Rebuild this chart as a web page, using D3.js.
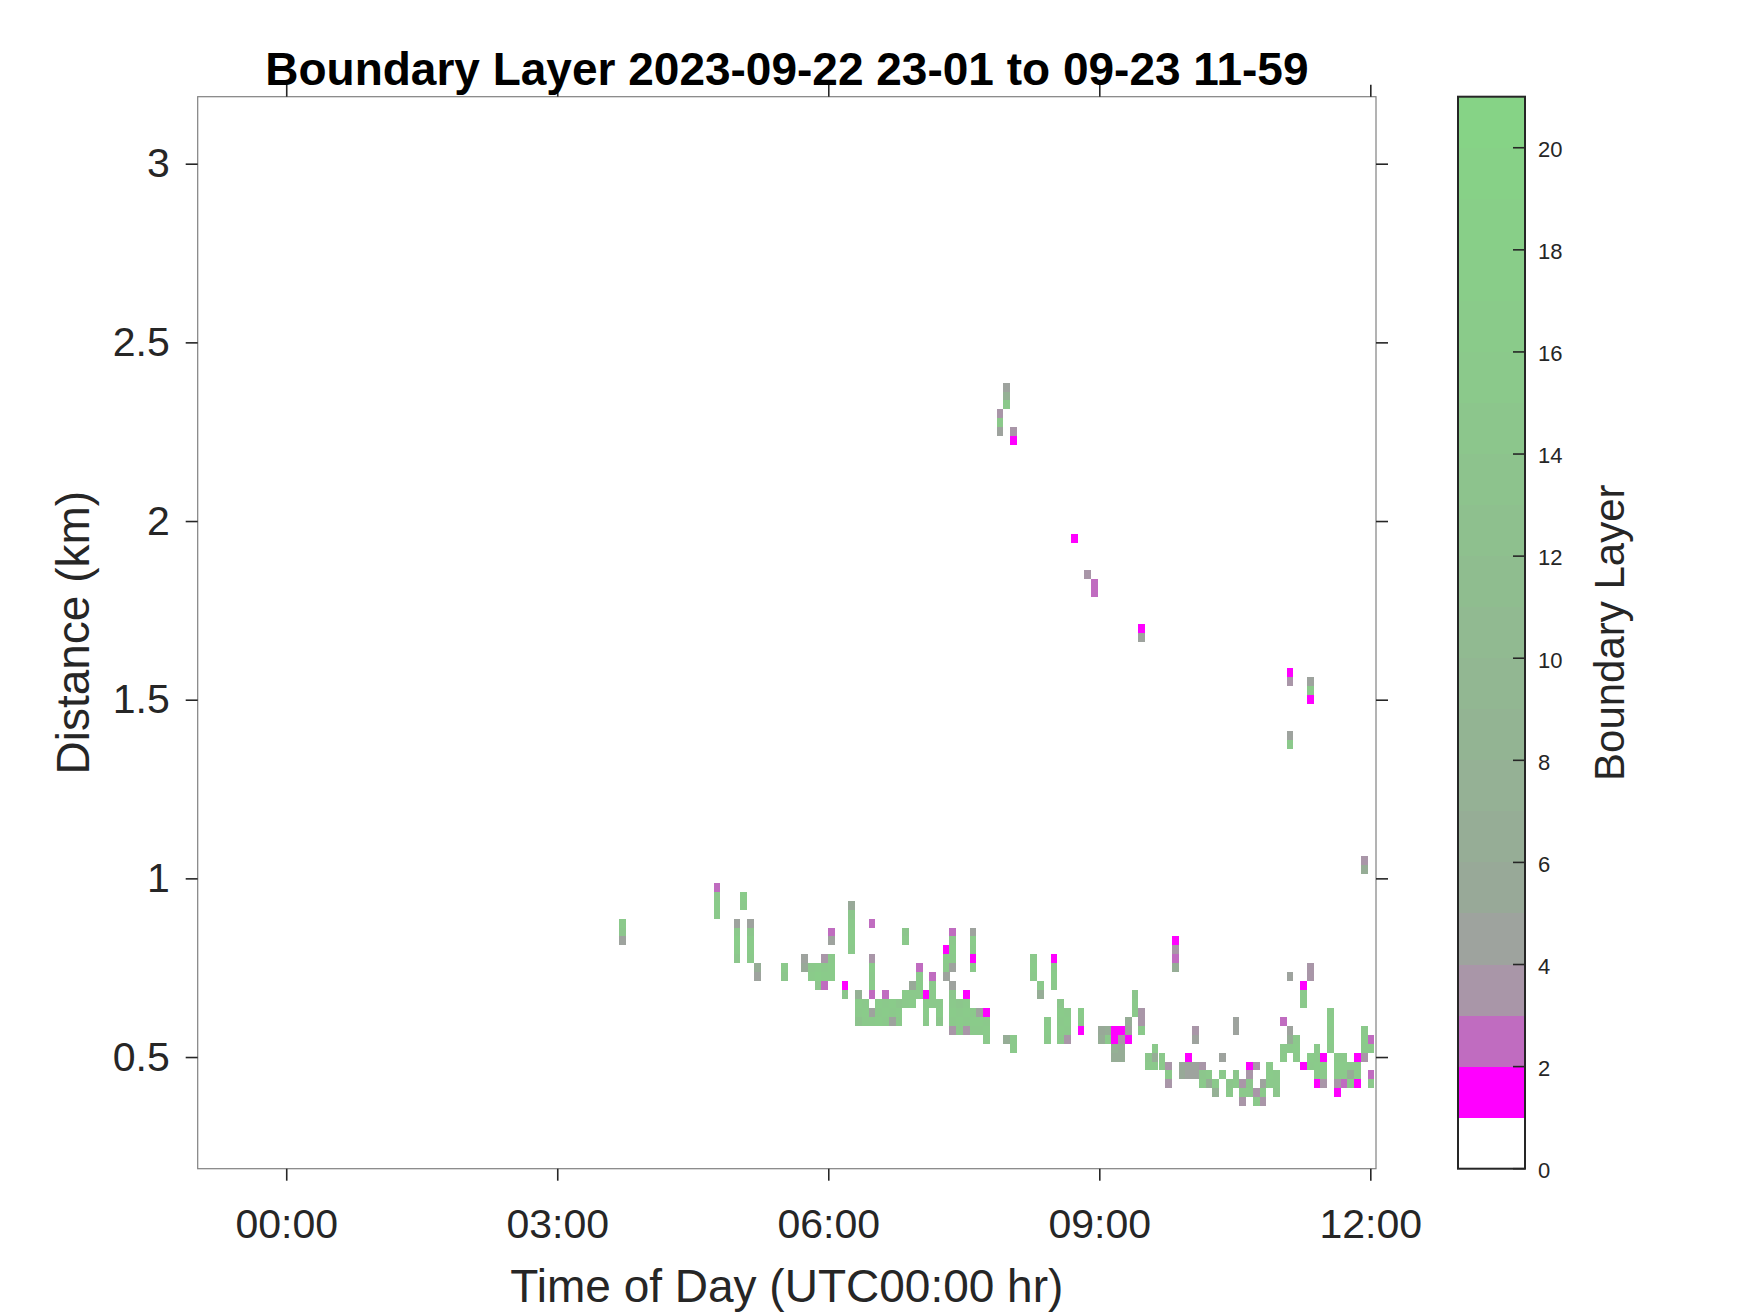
<!DOCTYPE html>
<html><head><meta charset="utf-8">
<script src="https://cdn.jsdelivr.net/npm/d3@7"></script>
<style>html,body{margin:0;padding:0;background:#fff} svg{display:block}</style>
</head><body>
<svg id="chart" width="1750" height="1313"></svg>
<script>
// ---- data: one entry per vertical run of range gates ----
// time of column centre (hours, UTC), height of lowest gate (km), gate values upward (0 = empty)
const segTime = [3.722,4.767,4.991,5.065,5.140,5.215,5.513,5.737,5.812,5.887,5.961,6.036,6.185,6.260,6.334,6.409,6.484,6.558,6.633,6.707,6.782,6.857,6.857,6.931,7.006,7.081,7.155,7.230,7.305,7.379,7.379,7.454,7.528,7.603,7.603,7.678,7.752,7.902,7.976,7.976,8.051,8.051,8.275,8.349,8.424,8.499,8.573,8.648,8.723,8.797,8.872,8.947,9.021,9.096,9.170,9.245,9.320,9.394,9.469,9.469,9.544,9.618,9.693,9.768,9.842,9.917,9.991,10.066,10.066,10.141,10.215,10.290,10.365,10.365,10.439,10.514,10.514,10.589,10.663,10.738,10.738,10.812,10.887,10.962,11.036,11.036,11.111,11.111,11.111,11.111,11.186,11.260,11.260,11.335,11.335,11.335,11.410,11.484,11.559,11.633,11.708,11.783,11.857,11.932,11.932,12.007,12.007];
const segBase = [0.825,0.900,0.775,0.925,0.775,0.725,0.725,0.750,0.725,0.700,0.700,0.725,0.675,0.800,0.600,0.600,0.600,0.600,0.600,0.600,0.600,0.650,0.825,0.650,0.675,0.600,0.650,0.600,0.725,0.575,0.750,0.575,0.575,0.575,0.750,0.575,0.550,2.250,0.550,2.325,0.525,2.225,0.725,0.675,0.550,0.700,0.550,0.550,1.950,0.575,1.850,1.800,0.550,0.550,0.500,0.500,0.550,0.625,0.575,1.675,0.475,0.475,0.475,0.425,0.750,0.450,0.450,0.450,0.550,0.425,0.425,0.400,0.450,0.500,0.400,0.425,0.575,0.375,0.400,0.375,0.475,0.375,0.425,0.400,0.500,0.600,0.525,0.725,1.375,1.550,0.500,0.475,0.650,0.475,0.725,1.500,0.425,0.425,0.525,0.400,0.425,0.425,0.425,0.500,1.025,0.425,0.525];
const segValues = [
  [4,14,15],[15,16,15,2],[14,16,17,15,4],[15,16],[15,16,16,14,4],[4,6],[14,15],[5,4],[16,15],[14,17,16],
  [2,16,15,3],[16,16,15,0,4,2],[14,1],[15,16,16,15,14,5],[13,15,16,7],[15,16,15],[15,4,0,2,16,15,16,3,0,0,0,2],[16,15,16],[15,16,15,2],[4,15,16],
  [15,16,14],[15,16],[15,14],[16,15,5],[15,16,15,2],[15,16,15,1],[15,16,15,2],[14,16,15],[4,15,16,1],[3,15,16,15,14,4],
  [4,15,16,15,2],[15,16,15,14],[3,15,16,15,1],[15,16,15],[15,1,15,16,4],[15,16,4],[15,16,15,1],[4,15,3],[6],[15,7,4],
  [15,15],[1,3],[15,16,15],[6,15],[15,16,15],[15,16,15,1],[15,16,15,16,14],[3,15,16,15],[1],[1,15,16],
  [3],[2,2],[6,5],[15,6],[6,7,1,1],[6,6,3,1],[1,4,6],[15,15,14],[15,3,3],[4,1],
  [15,14],[15,6,15],[15,15],[3,15,3],[6,2,3,1],[5,5],[4,4,1],[4,4],[4,3],[15,14,3],
  [6,15],[7,15],[15],[4],[15,14],[15,14],[4,4],[3,15,3],[15,14,3,1],[15,3],
  [3],[3,15,4],[15,16,15],[14,15,15],[15,15],[2],[15,6,4],[4],[15,4],[3,1],
  [15,16,15],[1],[15,15,1],[15,16],[3,3],[1,15,4],[1,15,16,15,15],[3,15,16,1],[15,16,15,16,15],[1,3,15,16,15],
  [2,15,16,15],[15,6,15],[1,15,15,1],[3,15,16,15],[6,3],[15,2],[15,2]
];
const timeStep = 0.0746;   // hours per column
const gateStep = 0.025;    // km per range gate

const xTickHours = [0, 3, 6, 9, 12];
const xTickLabels = ["00:00", "03:00", "06:00", "09:00", "12:00"];
const yTickValues = [0.5, 1, 1.5, 2, 2.5, 3];
const yTickLabels = ["0.5", "1", "1.5", "2", "2.5", "3"];
const cbarTicks = [0, 2, 4, 6, 8, 10, 12, 14, 16, 18, 20];
const cbarColors = ["#ffffff","#ff00ff","#c06cc0","#a996a8","#9ea39e","#98a998","#96ad96","#95b195","#93b493","#92b792","#91ba91","#8fbd8f","#8ec08e","#8dc38d","#8cc68c","#8bc98b","#8acb8a","#89cd89","#88cf88","#87d187","#86d386"];
const titleText = "Boundary Layer 2023-09-22 23-01 to 09-23 11-59";
const xLabelText = "Time of Day (UTC00:00 hr)";
const yLabelText = "Distance (km)";
const cbarLabelText = "Boundary Layer";

// ---- layout ----
const P = {left: 197.7, right: 1376, top: 96.7, bottom: 1168.7};
const CB = {left: 1458, right: 1525};
const font = "'Liberation Sans', Arial, Helvetica, sans-serif";
const txt = "#262626";

const svg = d3.select("#chart");
const x = d3.scaleLinear().domain([-0.98, 12.063]).range([P.left, P.right]);
const y = d3.scaleLinear().domain([0.1875, 3.1875]).range([P.bottom, P.top]);
const cy = d3.scaleLinear().domain([0, 21]).range([P.bottom, P.top]);
const colorOf = v => cbarColors[Math.max(0, Math.min(20, Math.floor(v)))];

// cells
const cells = [];
segTime.forEach((t, i) => {
  segValues[i].forEach((v, j) => {
    if (v > 0) cells.push({t, h: segBase[i] + j * gateStep, v});
  });
});

svg.append("g").selectAll("rect").data(cells).join("rect")
  .attr("x", d => x(d.t - timeStep / 2))
  .attr("width", d => x(d.t + timeStep / 2) - x(d.t - timeStep / 2))
  .attr("y", d => y(d.h + gateStep / 2))
  .attr("height", d => y(d.h - gateStep / 2) - y(d.h + gateStep / 2))
  .attr("fill", d => colorOf(d.v))
  .attr("shape-rendering", "crispEdges");

// box
svg.append("rect")
  .attr("x", P.left).attr("y", P.top)
  .attr("width", P.right - P.left).attr("height", P.bottom - P.top)
  .attr("fill", "none").attr("stroke", "#808080").attr("stroke-width", 1.2);

function styleAxis(g) {
  g.select(".domain").remove();
  g.selectAll(".tick line").attr("stroke", "#262626").attr("stroke-width", 1.6);
  g.selectAll(".tick text").attr("fill", txt).attr("font-family", font);
}

// x axes
svg.append("g").attr("transform", `translate(0,${P.bottom})`)
  .call(d3.axisBottom(x).tickValues(xTickHours).tickFormat((d, i) => xTickLabels[i])
    .tickSizeInner(12).tickSizeOuter(0).tickPadding(28))
  .call(styleAxis)
  .call(g => g.selectAll(".tick text").attr("font-size", 41));
svg.append("g").attr("transform", `translate(0,${P.top})`)
  .call(d3.axisTop(x).tickValues(xTickHours).tickFormat("").tickSizeInner(12).tickSizeOuter(0))
  .call(styleAxis);

// y axes
svg.append("g").attr("transform", `translate(${P.left},0)`)
  .call(d3.axisLeft(y).tickValues(yTickValues).tickFormat((d, i) => yTickLabels[i])
    .tickSizeInner(12).tickSizeOuter(0).tickPadding(16))
  .call(styleAxis)
  .call(g => g.selectAll(".tick text").attr("font-size", 41));
svg.append("g").attr("transform", `translate(${P.right},0)`)
  .call(d3.axisRight(y).tickValues(yTickValues).tickFormat("").tickSizeInner(12).tickSizeOuter(0))
  .call(styleAxis);

// title and labels
svg.append("text").attr("x", (P.left + P.right) / 2).attr("y", 85)
  .attr("text-anchor", "middle").attr("font-family", font).attr("font-weight", "bold")
  .attr("font-size", 46).attr("fill", "#000").text(titleText);
svg.append("text").attr("x", (P.left + P.right) / 2).attr("y", 1302)
  .attr("text-anchor", "middle").attr("font-family", font)
  .attr("font-size", 46).attr("fill", txt).text(xLabelText);
svg.append("text").attr("transform", `translate(89,${(P.top + P.bottom) / 2}) rotate(-90)`)
  .attr("text-anchor", "middle").attr("font-family", font)
  .attr("font-size", 46).attr("fill", txt).text(yLabelText);

// colorbar
const cb = svg.append("g");
cb.selectAll("rect.band").data(d3.range(21)).join("rect").attr("class", "band")
  .attr("x", CB.left).attr("width", CB.right - CB.left)
  .attr("y", d => cy(d + 1)).attr("height", d => cy(d) - cy(d + 1))
  .attr("fill", d => cbarColors[d]).attr("shape-rendering", "crispEdges");
cb.append("rect").attr("x", CB.left).attr("y", P.top)
  .attr("width", CB.right - CB.left).attr("height", P.bottom - P.top)
  .attr("fill", "none").attr("stroke", "#262626").attr("stroke-width", 2);
svg.append("g").attr("transform", `translate(${CB.right},0)`)
  .call(d3.axisRight(cy).tickValues(cbarTicks).tickSizeInner(0).tickSizeOuter(0).tickPadding(13))
  .call(styleAxis)
  .call(g => g.selectAll(".tick text").attr("font-size", 22).attr("dy", "0.4em"));
cb.selectAll("line.cbt").data(cbarTicks).join("line").attr("class", "cbt")
  .attr("x1", CB.right - 12).attr("x2", CB.right)
  .attr("y1", d => cy(d)).attr("y2", d => cy(d))
  .attr("stroke", "#262626").attr("stroke-width", 1.6);
svg.append("text").attr("transform", `translate(1624,${(P.top + P.bottom) / 2}) rotate(-90)`)
  .attr("text-anchor", "middle").attr("font-family", font)
  .attr("font-size", 42).attr("fill", txt).text(cbarLabelText);
</script>
</body></html>
